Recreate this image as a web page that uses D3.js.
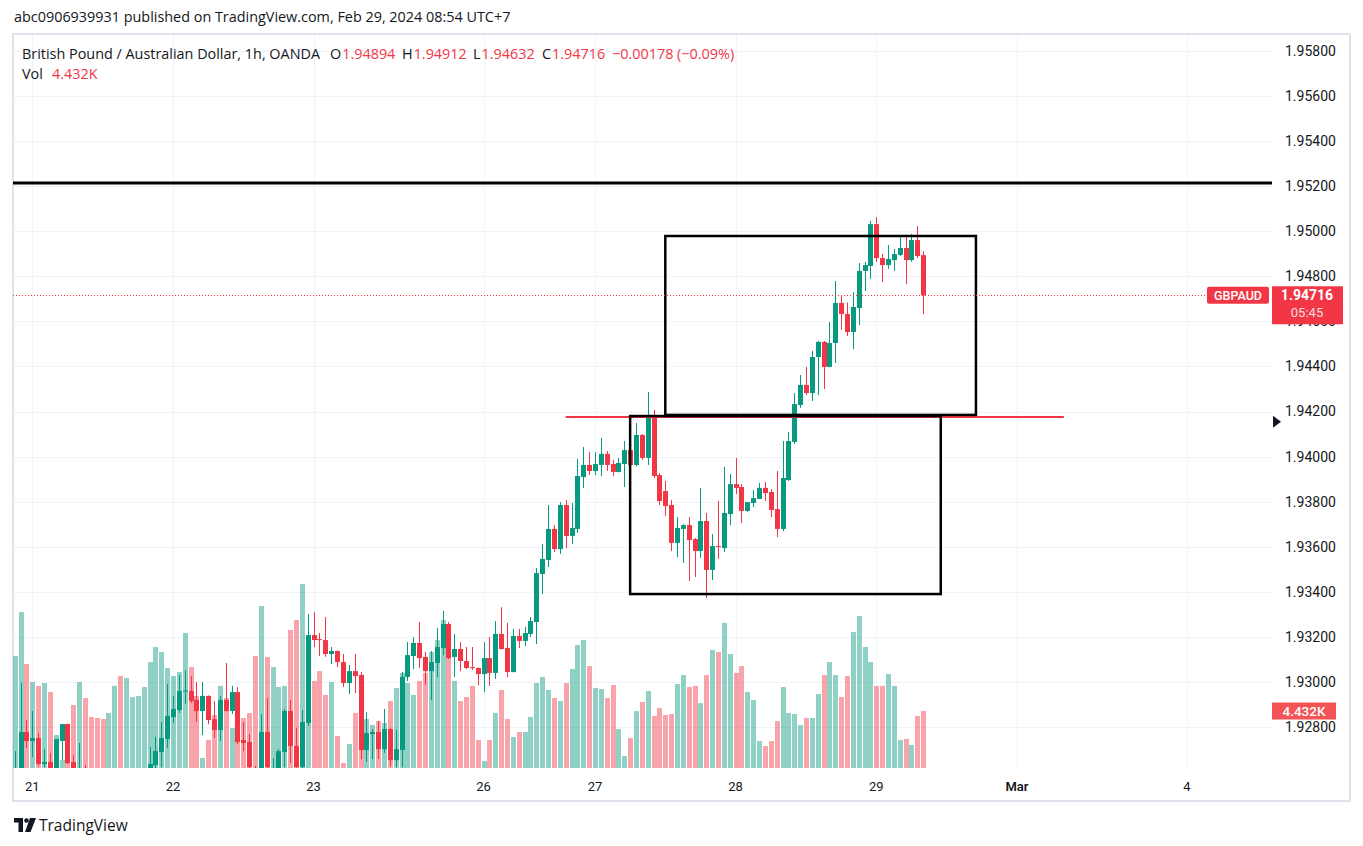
<!DOCTYPE html>
<html>
<head>
<meta charset="utf-8">
<script src="https://cdn.jsdelivr.net/npm/d3@7"></script>
<style>
body { margin: 0; background: #fff; }
svg { display: block; font-family: Roboto, "Liberation Sans", sans-serif; }
.ui { font-family: "Open Sans", Roboto, sans-serif; }
</style>
</head>
<body>
<svg id="chart" width="1363" height="846"></svg>
<script>
// GBPAUD 1h, OANDA - bars from Feb 20 21:00 to Feb 29 08:00 (UTC+7)
var firstBar = -3; // bar index of the first value (0 = Feb 21 00:00)

var open = [
  1.92565, 1.92609, 1.92778, 1.92738, 1.92751, 1.92636, 1.92645, 1.92609, 1.92738, 1.92813,
  1.92645, 1.92542, 1.92600, 1.92565, 1.92520, 1.92485, 1.92454, 1.92485, 1.92511, 1.92494,
  1.92529, 1.92556, 1.92582, 1.92600, 1.92631, 1.92689, 1.92747, 1.92844, 1.92875, 1.92958,
  1.92960, 1.92920, 1.92871, 1.92938, 1.92835, 1.92787, 1.92920, 1.92871, 1.92955, 1.92742,
  1.92733, 1.92618, 1.92582, 1.92778, 1.92565, 1.92609, 1.92689, 1.92871, 1.92716, 1.92622,
  1.92818, 1.93208, 1.93190, 1.93186, 1.93124, 1.93137, 1.93088, 1.92995, 1.93048, 1.93031,
  1.92698, 1.92769, 1.92778, 1.92702, 1.92791, 1.92653, 1.92698, 1.93022, 1.93115, 1.93173,
  1.93111, 1.93048, 1.93084, 1.93151, 1.93257, 1.93111, 1.93146, 1.93093, 1.93066, 1.93062,
  1.93035, 1.93106, 1.93040, 1.93213, 1.93151, 1.93044, 1.93204, 1.93182, 1.93213, 1.93266,
  1.93479, 1.93541, 1.93679, 1.93590, 1.93785, 1.93648, 1.93679, 1.93909, 1.93963, 1.93936,
  1.93963, 1.94012, 1.93967, 1.93932, 1.93967, 1.94029, 1.93963, 1.94096, 1.93994, 1.94185,
  1.93918, 1.93847, 1.93785, 1.93617, 1.93679, 1.93696, 1.93634, 1.93581, 1.93714, 1.93497,
  1.93603, 1.93594, 1.93745, 1.93878, 1.93865, 1.93759, 1.93794, 1.93812, 1.93861, 1.93843,
  1.93767, 1.93679, 1.93896, 1.94065, 1.94229, 1.94318, 1.94282, 1.94442, 1.94509, 1.94398,
  1.94504, 1.94682, 1.94633, 1.94553, 1.94659, 1.94824, 1.94846, 1.95032, 1.94881, 1.94850,
  1.94872, 1.94895, 1.94926, 1.94872, 1.94961, 1.94894
];
var high = [
  1.92693, 1.92995, 1.92831, 1.92871, 1.92773, 1.92702, 1.92685, 1.92747, 1.92813, 1.92815,
  1.92676, 1.92729, 1.92631, 1.92582, 1.92538, 1.92507, 1.92498, 1.92529, 1.92529, 1.92547,
  1.92574, 1.92596, 1.92609, 1.92711, 1.92756, 1.92822, 1.92991, 1.92938, 1.93031, 1.93053,
  1.93026, 1.93000, 1.93000, 1.92940, 1.92915, 1.92938, 1.93084, 1.92982, 1.92977, 1.92822,
  1.92769, 1.92627, 1.92858, 1.92929, 1.92662, 1.92702, 1.92880, 1.92920, 1.92796, 1.92875,
  1.93301, 1.93310, 1.93217, 1.93288, 1.93155, 1.93140, 1.93124, 1.93075, 1.93124, 1.93044,
  1.92866, 1.92791, 1.92827, 1.92880, 1.92793, 1.92787, 1.93044, 1.93177, 1.93199, 1.93266,
  1.93133, 1.93137, 1.93239, 1.93315, 1.93266, 1.93213, 1.93177, 1.93155, 1.93155, 1.93064,
  1.93177, 1.93199, 1.93270, 1.93332, 1.93262, 1.93235, 1.93235, 1.93244, 1.93288, 1.93506,
  1.93612, 1.93785, 1.93696, 1.93798, 1.93807, 1.93794, 1.93989, 1.94043, 1.94020, 1.94020,
  1.94083, 1.94025, 1.93985, 1.93994, 1.94069, 1.94083, 1.94149, 1.94100, 1.94287, 1.94207,
  1.93927, 1.93892, 1.93807, 1.93732, 1.93701, 1.93732, 1.93639, 1.93861, 1.93750, 1.93656,
  1.93803, 1.93954, 1.93923, 1.93994, 1.93878, 1.93798, 1.93852, 1.93883, 1.93887, 1.93856,
  1.93936, 1.94069, 1.94109, 1.94282, 1.94362, 1.94398, 1.94469, 1.94513, 1.94513, 1.94597,
  1.94779, 1.94713, 1.94684, 1.94730, 1.94859, 1.94864, 1.95046, 1.95063, 1.94899, 1.94939,
  1.94921, 1.94983, 1.94983, 1.94988, 1.95023, 1.94912
];
var low = [
  1.92542, 1.92587, 1.92707, 1.92667, 1.92627, 1.92622, 1.92600, 1.92600, 1.92653, 1.92636,
  1.92587, 1.92520, 1.92542, 1.92498, 1.92463, 1.92432, 1.92432, 1.92467, 1.92476, 1.92476,
  1.92511, 1.92538, 1.92565, 1.92582, 1.92618, 1.92622, 1.92707, 1.92818, 1.92862, 1.92902,
  1.92906, 1.92822, 1.92764, 1.92813, 1.92751, 1.92738, 1.92869, 1.92858, 1.92724, 1.92693,
  1.92609, 1.92556, 1.92565, 1.92600, 1.92556, 1.92591, 1.92622, 1.92640, 1.92600, 1.92600,
  1.92804, 1.93155, 1.93115, 1.93111, 1.93079, 1.93066, 1.92977, 1.92946, 1.92951, 1.92658,
  1.92645, 1.92658, 1.92658, 1.92685, 1.92627, 1.92622, 1.92622, 1.93004, 1.93057, 1.93062,
  1.92986, 1.92920, 1.93022, 1.93119, 1.93102, 1.93022, 1.93048, 1.93057, 1.93053, 1.92986,
  1.92955, 1.92982, 1.93013, 1.93144, 1.93022, 1.93042, 1.93151, 1.93159, 1.93199, 1.93168,
  1.93390, 1.93510, 1.93577, 1.93568, 1.93594, 1.93612, 1.93661, 1.93861, 1.93918, 1.93918,
  1.93914, 1.93936, 1.93914, 1.93930, 1.93865, 1.93927, 1.93958, 1.93985, 1.93963, 1.93905,
  1.93785, 1.93736, 1.93581, 1.93554, 1.93528, 1.93448, 1.93466, 1.93550, 1.93372, 1.93452,
  1.93546, 1.93577, 1.93696, 1.93834, 1.93705, 1.93754, 1.93776, 1.93812, 1.93803, 1.93732,
  1.93643, 1.93670, 1.93892, 1.94056, 1.94216, 1.94273, 1.94247, 1.94273, 1.94300, 1.94396,
  1.94415, 1.94562, 1.94535, 1.94477, 1.94584, 1.94735, 1.94788, 1.94864, 1.94775, 1.94833,
  1.94824, 1.94890, 1.94766, 1.94864, 1.94881, 1.94632
];
var close = [
  1.92609, 1.92778, 1.92738, 1.92751, 1.92636, 1.92645, 1.92618, 1.92747, 1.92813, 1.92640,
  1.92609, 1.92587, 1.92565, 1.92520, 1.92485, 1.92454, 1.92485, 1.92511, 1.92494, 1.92529,
  1.92556, 1.92582, 1.92600, 1.92636, 1.92693, 1.92751, 1.92849, 1.92880, 1.92960, 1.92962,
  1.92915, 1.92871, 1.92938, 1.92831, 1.92787, 1.92920, 1.92871, 1.92955, 1.92733, 1.92729,
  1.92622, 1.92574, 1.92778, 1.92622, 1.92609, 1.92693, 1.92871, 1.92716, 1.92622, 1.92822,
  1.93208, 1.93186, 1.93186, 1.93124, 1.93137, 1.93088, 1.92995, 1.93048, 1.93026, 1.92698,
  1.92773, 1.92778, 1.92702, 1.92791, 1.92653, 1.92702, 1.93022, 1.93119, 1.93173, 1.93106,
  1.93048, 1.93088, 1.93155, 1.93257, 1.93106, 1.93146, 1.93093, 1.93062, 1.93062, 1.93035,
  1.93106, 1.93040, 1.93213, 1.93146, 1.93044, 1.93204, 1.93182, 1.93217, 1.93270, 1.93483,
  1.93546, 1.93679, 1.93590, 1.93785, 1.93648, 1.93683, 1.93914, 1.93963, 1.93936, 1.93967,
  1.94012, 1.93963, 1.93932, 1.93972, 1.94029, 1.93963, 1.94096, 1.93994, 1.94185, 1.93914,
  1.93803, 1.93781, 1.93617, 1.93683, 1.93696, 1.93630, 1.93581, 1.93714, 1.93497, 1.93603,
  1.93599, 1.93750, 1.93878, 1.93861, 1.93759, 1.93798, 1.93816, 1.93861, 1.93838, 1.93763,
  1.93679, 1.93905, 1.94069, 1.94233, 1.94318, 1.94282, 1.94442, 1.94509, 1.94398, 1.94504,
  1.94682, 1.94633, 1.94553, 1.94664, 1.94824, 1.94850, 1.95032, 1.94881, 1.94850, 1.94877,
  1.94899, 1.94926, 1.94872, 1.94961, 1.94890, 1.94716
];
// volume in thousands
var volume = [
  8.71, 12.13, 8.09, 6.69, 6.38, 6.61, 5.91, 2.57, 0.62, 3.42,
  4.90, 6.69, 5.44, 3.97, 3.89, 3.81, 4.28, 6.38, 7.15, 7.00,
  5.52, 5.60, 6.30, 8.24, 9.41, 9.02, 7.78, 7.15, 7.47, 10.50,
  7.85, 5.60, 0.78, 2.18, 4.12, 6.38, 5.44, 3.11, 4.90, 3.89,
  4.28, 8.71, 12.60, 8.63, 7.85, 6.30, 6.38, 10.73, 11.51, 14.31,
  6.84, 6.77, 7.54, 5.68, 6.69, 2.49, 0.39, 1.87, 4.28, 5.29,
  3.81, 3.34, 3.65, 3.50, 5.21, 6.22, 7.39, 6.61, 5.68, 6.77,
  7.39, 9.02, 9.95, 11.51, 11.20, 6.77, 5.21, 5.52, 6.38, 2.18,
  0.54, 2.18, 4.28, 6.07, 3.81, 2.41, 2.80, 2.80, 3.97, 6.61,
  7.08, 6.07, 5.44, 5.21, 6.61, 7.70, 9.56, 9.95, 7.93, 6.22,
  6.14, 5.44, 6.45, 3.03, 0.93, 2.33, 4.43, 5.13, 5.99, 4.04,
  4.67, 4.12, 4.20, 6.53, 7.23, 6.30, 6.38, 5.05, 7.23, 9.18,
  9.02, 11.28, 8.86, 7.39, 7.93, 5.91, 5.29, 2.10, 1.71, 2.10,
  3.65, 6.30, 4.28, 4.20, 3.34, 3.89, 3.89, 5.75, 7.23, 8.24,
  7.23, 5.52, 7.15, 10.58, 11.82, 9.41, 8.24, 6.38, 6.38, 7.31,
  6.38, 2.18, 2.26, 1.79, 4.04, 4.432
];

// time axis (bar index of each day start) and price axis ticks
var dayLabels = ["21", "22", "23", "26", "27", "28", "29", "Mar", "4"];
var dayBars = [0, 24, 48, 77, 96, 120, 144, 168, 197];
var priceTicks = [1.928, 1.930, 1.932, 1.934, 1.936, 1.938, 1.940, 1.942, 1.944,
                  1.946, 1.948, 1.950, 1.952, 1.954, 1.956, 1.958];

// drawings on the chart
var resistanceLevel = 1.95214;
var breakLevel = 1.94176;
var breakLevelBars = [91, 176];
var upperBox = {from: 108, to: 161, top: 1.94979, bottom: 1.94185};
var lowerBox = {from: 102, to: 155, top: 1.94180, bottom: 1.93390};

var lastPrice = 1.94716;
var upColor = "#089981", downColor = "#f23645", textColor = "#131722";

var svg = d3.select("#chart");
var pane = {left: 13, right: 1272, top: 35, bottom: 768};

var x = d3.scaleLinear().domain([0, 144]).range([32.3, 876.3]);
var y = d3.scaleLinear().domain([1.928, 1.958]).range([727, 51]);
var v = d3.scaleLinear().domain([0, 14.31]).range([pane.bottom, 584]);

var bars = open.map(function (o, i) {
    return {i: i + firstBar, o: o, h: high[i], l: low[i], c: close[i], v: volume[i]};
});

// header
svg.append("text").attr("class", "ui")
    .attr("x", 14).attr("y", 22)
    .attr("font-size", "14.4px").attr("fill", textColor)
    .text("abc0906939931 published on TradingView.com, Feb 29, 2024 08:54 UTC+7");

// frame
svg.append("rect")
    .attr("x", 13).attr("y", 34)
    .attr("width", 1337).attr("height", 767)
    .attr("fill", "none").attr("stroke", "#e0e3eb").attr("stroke-width", 2);

svg.append("clipPath").attr("id", "paneClip")
    .append("rect")
    .attr("x", pane.left).attr("y", pane.top)
    .attr("width", pane.right - pane.left).attr("height", pane.bottom - pane.top);

var grid = svg.append("g");
grid.selectAll("line.h").data(priceTicks).enter().append("line")
    .attr("x1", pane.left).attr("x2", pane.right)
    .attr("y1", function (d) { return Math.round(y(d)) + 0.5; })
    .attr("y2", function (d) { return Math.round(y(d)) + 0.5; })
    .attr("stroke", "#f0f3fa");
grid.selectAll("line.v").data(dayBars).enter().append("line")
    .attr("y1", pane.top).attr("y2", pane.bottom)
    .attr("x1", function (d) { return Math.round(x(d)) + 0.5; })
    .attr("x2", function (d) { return Math.round(x(d)) + 0.5; })
    .attr("stroke", "#f0f3fa");

var plot = svg.append("g").attr("clip-path", "url(#paneClip)");

// volume
plot.append("g").selectAll("rect").data(bars).enter().append("rect")
    .attr("x", function (d) { return Math.round(x(d.i)) - 2; })
    .attr("width", 5)
    .attr("y", function (d) { return v(d.v); })
    .attr("height", function (d) { return pane.bottom - v(d.v); })
    .attr("fill", function (d) { return d.c >= d.o ? upColor : downColor; })
    .attr("fill-opacity", 0.45);

// candles
var candle = plot.append("g").selectAll("g").data(bars).enter().append("g")
    .attr("fill", function (d) { return d.c >= d.o ? upColor : downColor; })
    .attr("stroke", function (d) { return d.c >= d.o ? upColor : downColor; });
candle.append("line")
    .attr("x1", function (d) { return Math.round(x(d.i)) + 0.5; })
    .attr("x2", function (d) { return Math.round(x(d.i)) + 0.5; })
    .attr("y1", function (d) { return y(d.h); })
    .attr("y2", function (d) { return y(d.l); })
    .attr("stroke-width", 1);
candle.append("rect")
    .attr("stroke", "none")
    .attr("x", function (d) { return Math.round(x(d.i)) - 2; })
    .attr("width", 5)
    .attr("y", function (d) { return y(Math.max(d.o, d.c)); })
    .attr("height", function (d) { return Math.max(1, Math.abs(y(d.o) - y(d.c))); });

// drawings
plot.append("line")
    .attr("x1", pane.left).attr("x2", pane.right)
    .attr("y1", y(resistanceLevel)).attr("y2", y(resistanceLevel))
    .attr("stroke", "#000").attr("stroke-width", 3);
plot.append("line")
    .attr("x1", x(breakLevelBars[0])).attr("x2", x(breakLevelBars[1]))
    .attr("y1", y(breakLevel)).attr("y2", y(breakLevel))
    .attr("stroke", downColor).attr("stroke-width", 2);
[upperBox, lowerBox].forEach(function (b) {
    plot.append("rect")
        .attr("x", x(b.from)).attr("width", x(b.to) - x(b.from))
        .attr("y", y(b.top)).attr("height", y(b.bottom) - y(b.top))
        .attr("fill", "none").attr("stroke", "#000").attr("stroke-width", 2.5);
});

// last price line
plot.append("line")
    .attr("x1", pane.left).attr("x2", 1207)
    .attr("y1", Math.round(y(lastPrice)) + 0.5).attr("y2", Math.round(y(lastPrice)) + 0.5)
    .attr("stroke", downColor).attr("stroke-dasharray", "1,2");

// price axis
var ly = y(lastPrice);
svg.append("g").selectAll("text").data(priceTicks).enter().append("text")
    .attr("x", 1285).attr("y", function (d) { return y(d); })
    .attr("dy", "0.35em")
    .attr("font-size", "14px").attr("fill", textColor)
    .text(function (d) { return d.toFixed(5); });

// time axis
svg.append("g").selectAll("text").data(dayLabels).enter().append("text")
    .attr("x", function (d, i) { return x(dayBars[i]); })
    .attr("y", 791)
    .attr("text-anchor", "middle")
    .attr("font-size", "13px").attr("fill", textColor)
    .attr("font-weight", function (d) { return d === "Mar" ? 600 : 400; })
    .text(function (d) { return d; });

// symbol tag and last price tag (drawn over the tick label it hides)
svg.append("rect").attr("x", 1207).attr("y", ly - 8.5).attr("width", 62).attr("height", 17)
    .attr("rx", 2).attr("fill", downColor);
svg.append("text").attr("x", 1238).attr("y", ly).attr("dy", "0.35em")
    .attr("text-anchor", "middle").attr("font-size", "12.5px").attr("font-weight", 500)
    .attr("fill", "#fff").text("GBPAUD");
svg.append("rect").attr("x", 1272).attr("y", ly - 9).attr("width", 71).attr("height", 38)
    .attr("fill", downColor);
svg.append("text").attr("x", 1307).attr("y", ly).attr("dy", "0.35em")
    .attr("text-anchor", "middle").attr("font-size", "14px").attr("font-weight", 700)
    .attr("fill", "#fff").text(lastPrice.toFixed(5));
svg.append("text").attr("x", 1307).attr("y", ly + 17).attr("dy", "0.35em")
    .attr("text-anchor", "middle").attr("font-size", "13px")
    .attr("fill", "#fff").attr("fill-opacity", 0.85).text("05:45");

// volume tag
var vy = v(volume[volume.length - 1]);
svg.append("rect").attr("x", 1272).attr("y", vy - 8.5).attr("width", 64).attr("height", 17)
    .attr("fill", "#f25458");
svg.append("text").attr("x", 1304).attr("y", vy).attr("dy", "0.35em")
    .attr("text-anchor", "middle").attr("font-size", "13.5px").attr("font-weight", 500)
    .attr("fill", "#fff").text("4.432K");

// scroll marker
svg.append("path")
    .attr("d", "M1273," + (y(1.94155) - 6) + "l8,6l-8,6z")
    .attr("fill", textColor);

// legend
var legend = svg.append("g").attr("class", "ui").attr("font-size", "14.4px");
legend.append("text").attr("x", 22).attr("y", 59).attr("fill", textColor)
    .text("British Pound / Australian Dollar, 1h, OANDA");
var ohlcNames = ["O", "H", "L", "C"];
var ohlcSeries = [open, high, low, close];
var ohlcX = [330, 402, 473, 542];
ohlcNames.forEach(function (n, k) {
    var t = legend.append("text").attr("x", ohlcX[k]).attr("y", 59).attr("fill", textColor);
    t.append("tspan").text(n);
    t.append("tspan").attr("dx", 1).attr("fill", downColor)
        .text(ohlcSeries[k][ohlcSeries[k].length - 1].toFixed(5));
});
var chg = close[close.length - 1] - open[open.length - 1];
legend.append("text").attr("x", 612).attr("y", 59).attr("fill", downColor)
    .text("\u2212" + Math.abs(chg).toFixed(5) + " (\u2212" +
          Math.abs(chg / open[open.length - 1] * 100).toFixed(2) + "%)");

legend.append("text").attr("x", 22).attr("y", 79).attr("fill", textColor).text("Vol");
legend.append("text").attr("x", 52).attr("y", 79).attr("fill", downColor).text("4.432K");

// TradingView logo
var logo = svg.append("g").attr("fill", textColor);
logo.append("path").attr("d", "M14,818H23V832H18.5V822.5H14Z");
logo.append("circle").attr("cx", 26.5).attr("cy", 820.5).attr("r", 2.3);
logo.append("path").attr("d", "M30,818H36L30.5,832H25Z");
svg.append("text").attr("class", "ui").attr("x", 39).attr("y", 831)
    .attr("font-size", "15.5px").attr("fill", textColor)
    .text("TradingView");
</script>
</body>
</html>
